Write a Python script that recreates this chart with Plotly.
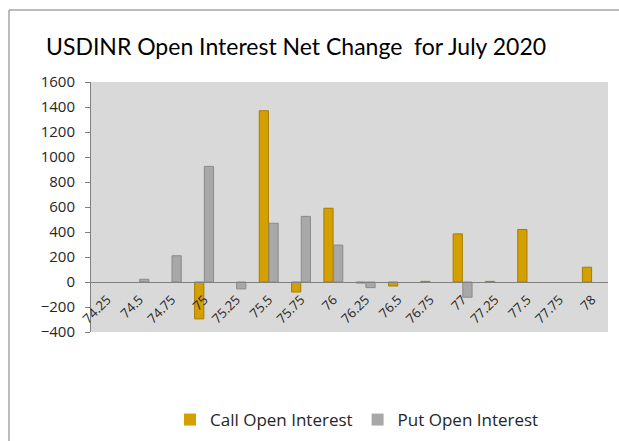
import plotly.graph_objects as go

strikes = ["74.25", "74.5", "74.75", "75", "75.25", "75.5", "75.75", "76",
           "76.25", "76.5", "76.75", "77", "77.25", "77.5", "77.75", "78"]
call_oi = [0, 0, 0, -295, 0, 1370, -80, 590, -8, -32, 5, 385, 5, 420, 0, 118]
put_oi = [0, 22, 210, 925, -55, 470, 525, 295, -45, 0, 0, -122, 0, 0, 0, 0]
y_ticks = [-400, -200, 0, 200, 400, 600, 800, 1000, 1200, 1400, 1600]


def edge_widths(vals):
    return [0 if v == 0 else 1 for v in vals]


fig = go.Figure()
fig.add_trace(go.Bar(
    x=strikes, y=call_oi, name="Call Open Interest",
    marker=dict(color="#D4A000",
                line=dict(color="#A67C00", width=edge_widths(call_oi))),
))
fig.add_trace(go.Bar(
    x=strikes, y=put_oi, name="Put Open Interest",
    marker=dict(color="#A8A8A8",
                line=dict(color="#8A8A8A", width=edge_widths(put_oi))),
))

fig.update_layout(
    width=619, height=441,
    margin=dict(l=91, r=11, t=82, b=109, autoexpand=False),
    paper_bgcolor="white",
    plot_bgcolor="#D9D9D9",
    barmode="group",
    bargap=0.4,
    bargroupgap=0.05,
    title=dict(
        text="USDINR Open Interest Net Change  for July 2020",
        font=dict(family="Lato", size=23, color="#000000"),
        xref="container", x=46 / 619, xanchor="left",
        yref="container", y=1 - 47 / 441, yanchor="middle",
    ),
    showlegend=True,
    legend=dict(
        orientation="h", x=357 / 619, xanchor="center", xref="container",
        y=1 - 420 / 441, yanchor="middle", yref="container",
        font=dict(family="Open Sans", size=17, color="#262626"),
        itemwidth=30, tracegroupgap=0,
    ),
    shapes=[
        dict(type="line", xref="paper", yref="paper",
             x0=(9 - 91) / 517, x1=(625 - 91) / 517,
             y0=(332 - 10) / 250, y1=(332 - 10) / 250,
             line=dict(color="#A6A6A6", width=1.5)),
        dict(type="line", xref="paper", yref="paper",
             x0=(9 - 91) / 517, x1=(9 - 91) / 517,
             y0=(332 - 10) / 250, y1=(332 - 450) / 250,
             line=dict(color="#A6A6A6", width=1.5)),
    ],
)

fig.update_yaxes(
    range=[-400, 1600], tickvals=y_ticks,
    showgrid=False, zeroline=True, zerolinecolor="#808080", zerolinewidth=1,
    showline=True, linecolor="#808080", linewidth=1,
    ticks="outside", ticklen=5, tickcolor="#808080",
    ticklabelstandoff=7,
    tickfont=dict(family="Open Sans", size=15, color="#262626"),
    domain=[0, 1],
)
fig.update_xaxes(
    anchor="free", position=0.2,
    showgrid=False, showline=True, linecolor="#808080", linewidth=1,
    ticks="", tickangle=-45, ticklabelstandoff=4,
    tickfont=dict(family="Open Sans", size=13, color="#262626"),
)

fig.write_html("out.html")
